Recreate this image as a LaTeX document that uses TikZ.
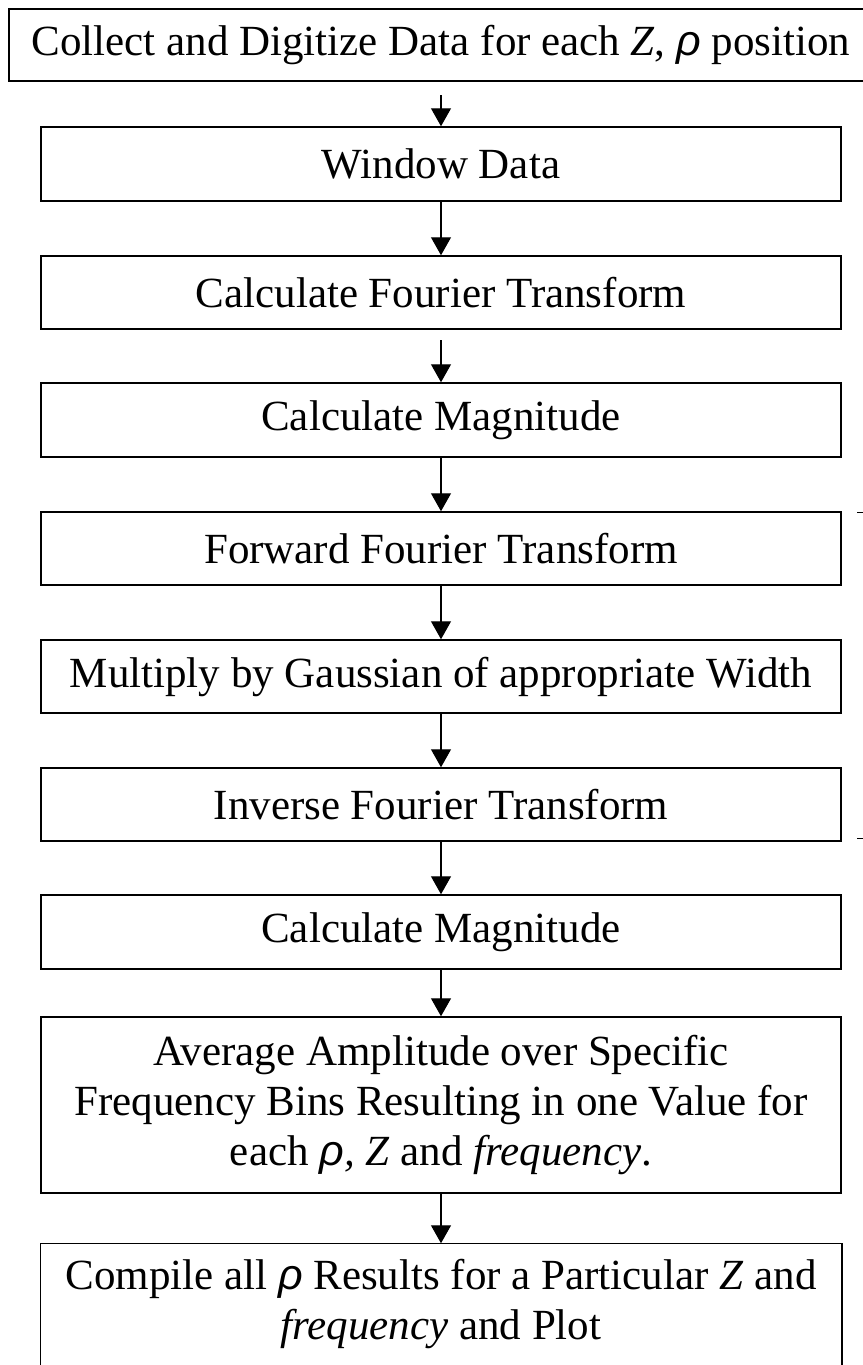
\documentclass[tikz,border=0pt]{standalone}
\usepackage{fontspec}
\setmainfont{Liberation Serif}
\newfontfamily\rhofont{Liberation Sans}
\usetikzlibrary{arrows.meta}
\newcommand{\rh}{{\rhofont\itshape ρ}}
\begin{document}
\begin{tikzpicture}[x=1pt,y=-1pt,
  boxline/.style={line width=1.5pt},
  stepbox/.style={draw,boxline,minimum width=800pt,inner sep=0pt,align=center,
    font=\fontsize{43}{50}\selectfont},
  flow/.style={-{Triangle[length=18pt,width=20pt]},line width=1.3pt}]
\useasboundingbox (0,0) rectangle (862,1365);
\node[stepbox,minimum width=864pt,minimum height=72pt] (b1) at (441,45)
  {Collect and Digitize Data for each \textit{Z}, \rh{} position};
\node[stepbox,minimum height=74pt] (b2) at (441,164) {Window Data};
\node[stepbox,minimum height=73pt] (b3) at (441,292.5) {Calculate Fourier Transform};
\node[stepbox,minimum height=74pt] (b4) at (441,420) {Calculate Magnitude};
\node[stepbox,minimum height=73pt] (b5) at (441,548.5) {Forward Fourier Transform};
\node[stepbox,minimum height=73pt] (b6) at (441,676.5) {Multiply by Gaussian of appropriate Width};
\node[stepbox,minimum height=73pt] (b7) at (441,804.5) {Inverse Fourier Transform};
\node[stepbox,minimum height=74pt] (b8) at (441,932) {Calculate Magnitude};
\node[stepbox,minimum height=176pt] (b9) at (441,1105)
  {Average Amplitude over Specific\\Frequency Bins Resulting in one Value for\\each \rh\textit{, Z} and \textit{frequency}.};
\node[stepbox,draw=none,minimum height=120pt] (b10) at (441,1304)
  {Compile all \rh{} Results for a Particular \textit{Z} and\\\textit{frequency} and Plot};
\draw[boxline] ([yshift=-20pt]b10.south west) rectangle (b10.north east);
\coordinate (a1) at (441,95);
\coordinate (a3) at (441,340);
\draw[flow] (a1) -- (b2.north);
\draw[flow] (b2.south) -- (b3.north);
\draw[flow] (a3) -- (b4.north);
\draw[flow] (b4.south) -- (b5.north);
\draw[flow] (b5.south) -- (b6.north);
\draw[flow] (b6.south) -- (b7.north);
\draw[flow] (b7.south) -- (b8.north);
\draw[flow] (b8.south) -- (b9.north);
\draw[flow] (b9.south) -- (b10.north);
\coordinate (t1) at (857,512);
\coordinate (t2) at (866,512);
\coordinate (t3) at (857,838);
\coordinate (t4) at (866,838);
\draw[line width=1pt] (t1) -- (t2);
\draw[line width=1pt] (t3) -- (t4);
\end{tikzpicture}
\end{document}
